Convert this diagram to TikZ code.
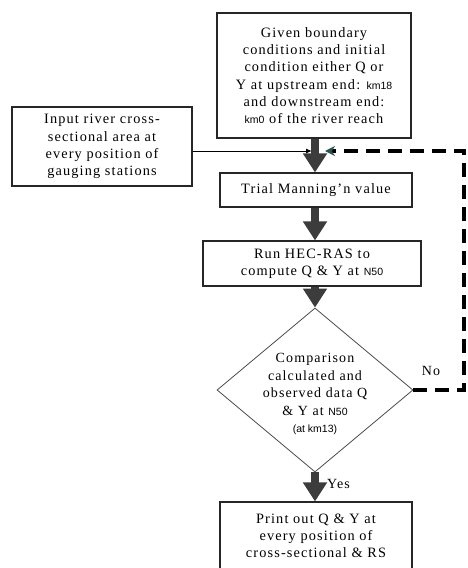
\documentclass[tikz,border=0pt]{standalone}
\usepackage{fontspec}
\setmainfont{Liberation Serif}[LetterSpace=8]
\newfontfamily\kmfont{Liberation Sans}
\newcommand{\smallsf}[1]{{\kmfont\fontsize{10.5}{17.3}\selectfont #1}}
\usetikzlibrary{arrows.meta,shapes.geometric}
\definecolor{arrowgray}{RGB}{60,60,60}
\definecolor{tealtip}{RGB}{40,85,80}
\begin{document}
\begin{tikzpicture}[x=1pt,y=-1pt,
  box/.style={draw=black!85,line width=1.1pt,fill=white,inner sep=0pt,align=center,
    font=\fontsize{14.3}{17.3}\selectfont},
  flow/.style={draw=arrowgray,line width=7.5pt,-{Triangle[width=23pt,length=19pt,color=arrowgray]}},
  feed/.style={draw=black,line width=1pt,-{Latex[length=6pt,width=5pt]}},
  loopdash/.style={draw=black,line width=3.6pt,dash pattern=on 14pt off 8pt,
    -{Stealth[length=10pt,width=10pt,color=tealtip]}},
  lbl/.style={inner sep=0pt,font=\fontsize{14}{15}\selectfont}
]
\useasboundingbox (0,0) rectangle (467,568);
\fill[white] (0,0) rectangle (467,568);
\clip (0,0) rectangle (467,568);

% boxes
\node[box,minimum width=194pt,minimum height=125pt] (top) at (314,75.5)
  {Given boundary\\conditions and initial\\condition either Q or\\Y at upstream end: \smallsf{km18}\\and downstream end:\\\smallsf{km0} of the river reach};
\node[box,minimum width=180pt,minimum height=79pt] (input) at (102,146.5)
  {Input river cross-\\sectional area at\\every position of\\gauging stations};
\node[box,minimum width=192pt,minimum height=34pt] (trial) at (316,190)
  {Trial Manning'n value};
\node[box,minimum width=218pt,minimum height=45pt] (run) at (312,263.5)
  {Run HEC-RAS to\\compute Q \& Y at \smallsf{N50}};
\node[draw=black!70,line width=0.8pt,diamond,minimum width=196pt,minimum height=164pt,inner sep=0pt] (cmp) at (315,390) {};
\node[align=center,inner sep=0pt,font=\fontsize{14}{17.5}\selectfont] (cmptxt) at (315,394)
  {Comparison\\calculated and\\observed data Q\\\& Y at \smallsf{N50}\\\smallsf{(at km13)}};
\node[box,minimum width=192pt,minimum height=68pt] (print) at (316,536)
  {Print out Q \& Y at\\every position of\\cross-sectional \& RS};

% junction coordinates
\coordinate (j1) at (312,151);
\coordinate (j2) at (325,151);
\coordinate (lr) at (464,390);
\coordinate (ur) at (464,151);

% main flow arrows
\draw[flow] (top.south -| cmp.north) -- (trial.north -| cmp.north);
\draw[flow] (trial.south -| cmp.north) -- (run.north -| cmp.north);
\draw[flow] (run.south -| cmp.north) -- (cmp.north);
\draw[flow] (cmp.south) -- (print.north -| cmp.south);

% input feed
\draw[feed] (input.east |- j1) -- (j1);

% loop back
\draw[loopdash] (cmp.east) -- (lr) -- (ur) -- (j2);

% labels
\node[lbl] (no) at (431,371) {No};
\node[lbl,anchor=west] (yes) at (327,484) {Yes};
\end{tikzpicture}
\end{document}
